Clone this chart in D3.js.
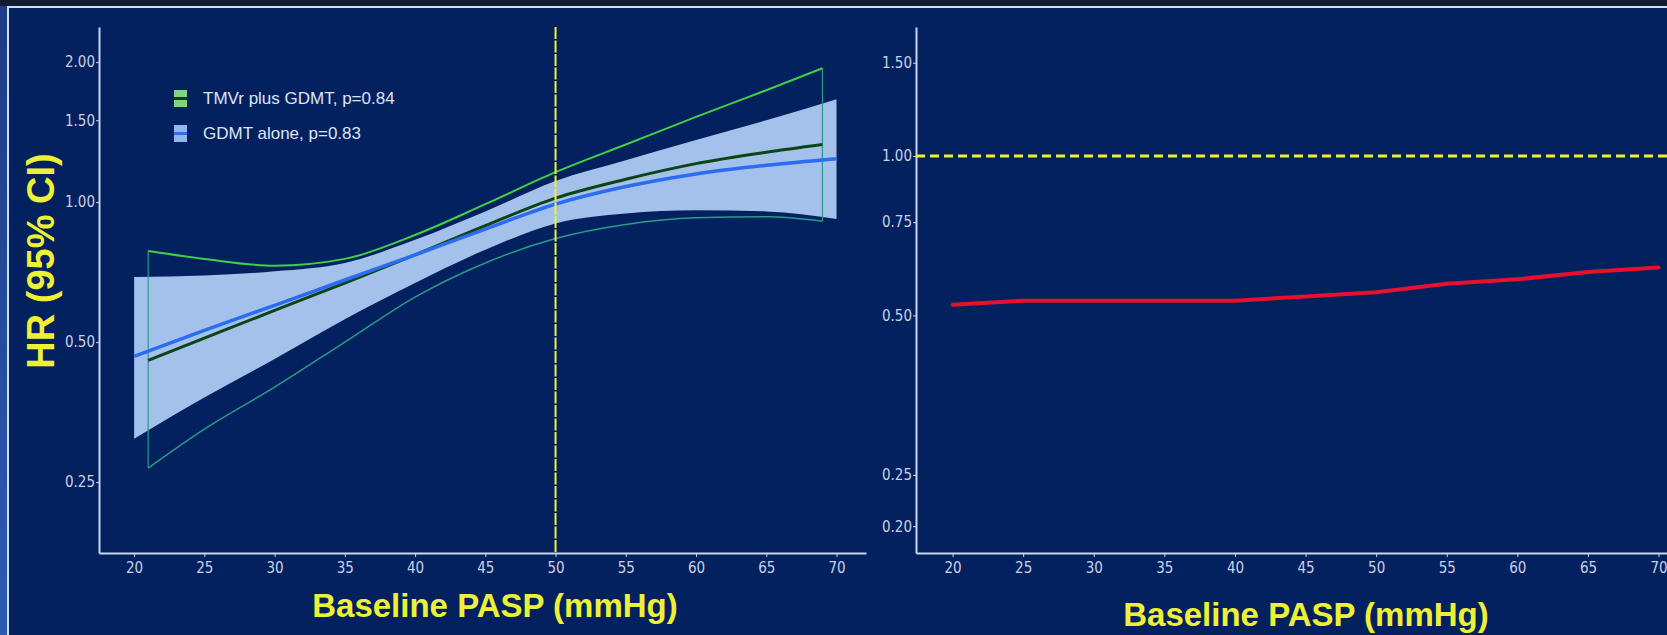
<!DOCTYPE html>
<html>
<head>
<meta charset="utf-8">
<script src="https://cdn.jsdelivr.net/npm/d3@7"></script>
<style>
  html, body { margin: 0; padding: 0; background: #03215e; overflow: hidden; }
  svg { display: block; }
  .tick text { font-family: "Liberation Sans Narrow", "DejaVu Sans Condensed", "Arial Narrow", sans-serif; }
</style>
</head>
<body>
<div id="chart"></div>
<script>
// x values (baseline PASP, mmHg)
const pasp = [20, 25, 30, 35, 40, 45, 50, 55, 60, 65, 70];
const tmvrPasp = [21, 25, 30, 35, 40, 45, 50, 55, 60, 65, 69];

// GDMT alone: HR with 95% CI band
const gdmtHR = [0.466, 0.53, 0.60, 0.68, 0.77, 0.875, 0.99, 1.08, 1.15, 1.20, 1.24];
const gdmtHi = [0.69, 0.695, 0.71, 0.74, 0.83, 0.955, 1.11, 1.23, 1.36, 1.50, 1.665];
const gdmtLo = [0.31, 0.38, 0.46, 0.56, 0.67, 0.79, 0.90, 0.945, 0.96, 0.955, 0.92];

// TMVr plus GDMT: HR with 95% CI outline
const tmvrHR = [0.457, 0.51, 0.585, 0.67, 0.77, 0.89, 1.02, 1.12, 1.21, 1.28, 1.33];
const tmvrHi = [0.785, 0.755, 0.73, 0.755, 0.85, 0.99, 1.16, 1.33, 1.525, 1.74, 1.94];
const tmvrLo = [0.268, 0.325, 0.40, 0.50, 0.625, 0.74, 0.835, 0.895, 0.925, 0.93, 0.91];

// right panel: red HR line
const redHR = [0.524, 0.533, 0.533, 0.533, 0.533, 0.543, 0.553, 0.574, 0.585, 0.604, 0.616];

// ticks and labels
const xTicks = [20, 25, 30, 35, 40, 45, 50, 55, 60, 65, 70];
const leftYTicks = [0.25, 0.5, 1, 1.5, 2];
const rightYTicks = [0.2, 0.25, 0.5, 0.75, 1, 1.5];
const legendLabels = ['TMVr plus GDMT, p=0.84', 'GDMT alone, p=0.83'];
const yTitle = 'HR (95% CI)';
const xTitle = 'Baseline PASP (mmHg)';

const W = 1667, H = 635;
const yellow = '#eef035';
const axisColor = '#c9d5ee';

const svg = d3.select('#chart').append('svg')
  .attr('width', W)
  .attr('height', H);

// background and slide frame
const bg = svg.append('defs').append('linearGradient')
  .attr('id', 'edge').attr('x1', 0).attr('x2', 0).attr('y1', 0).attr('y2', 1);
bg.append('stop').attr('offset', 0).attr('stop-color', '#1d3b85');
bg.append('stop').attr('offset', 1).attr('stop-color', '#2c5cb0');
svg.append('rect').attr('width', W).attr('height', H).attr('fill', '#03215e');
svg.append('rect').attr('width', 8).attr('height', H).attr('fill', 'url(#edge)');
svg.append('rect').attr('width', W).attr('height', 6).attr('fill', '#121a34');
svg.append('path')
  .attr('d', `M8,${H} V7 H${W}`)
  .attr('fill', 'none')
  .attr('stroke', '#d3ddf2')
  .attr('stroke-width', 2);

/* Draw one pair of axes and return its scales
*/
function makeAxes(xDomain, xRange, yDomain, yTicks) {
  const x = d3.scaleLinear().domain(xDomain).range(xRange);
  const y = d3.scaleLog().domain(yDomain).range([553, 27]);

  const gx = svg.append('g')
    .attr('transform', 'translate(0,553)')
    .call(d3.axisBottom(x).tickValues(xTicks).tickSize(4).tickSizeOuter(0).tickPadding(5));
  const gy = svg.append('g')
    .attr('transform', `translate(${xRange[0]},0)`)
    .call(d3.axisLeft(y).tickValues(yTicks).tickFormat(d3.format('.2f'))
      .tickSize(3).tickSizeOuter(0).tickPadding(1));

  [gx, gy].forEach(g => {
    g.select('.domain').attr('stroke', axisColor).attr('stroke-width', 2);
    g.selectAll('.tick line').attr('stroke', axisColor);
    g.selectAll('.tick text').attr('fill', '#c8d1e6').style('font-size', '15px');
  });
  return { x, y };
}

// ---------- left panel ----------
const L = makeAxes([17.5, 72.1], [99, 866], [0.176, 2.38], leftYTicks);

const band = d3.area()
  .x(d => L.x(d[0])).y0(d => L.y(d[1])).y1(d => L.y(d[2]))
  .curve(d3.curveMonotoneX);
svg.append('path')
  .datum(pasp.map((p, i) => [p, gdmtLo[i], gdmtHi[i]]))
  .attr('d', band)
  .attr('fill', '#a3c1ea');

const lineL = d3.line().x(d => L.x(d[0])).y(d => L.y(d[1])).curve(d3.curveMonotoneX);

// TMVr CI outline: ends, lower and upper bounds
const last = tmvrPasp.length - 1;
svg.append('path')
  .attr('d', `M${L.x(tmvrPasp[0])},${L.y(tmvrHi[0])} V${L.y(tmvrLo[0])}` +
             `M${L.x(tmvrPasp[last])},${L.y(tmvrHi[last])} V${L.y(tmvrLo[last])}`)
  .attr('stroke', '#2b9a8c').attr('stroke-width', 1.2).attr('fill', 'none');
svg.append('path')
  .datum(tmvrPasp.map((p, i) => [p, tmvrLo[i]]))
  .attr('d', lineL)
  .attr('stroke', '#2a9a8a').attr('stroke-width', 1.5).attr('fill', 'none');
svg.append('path')
  .datum(tmvrPasp.map((p, i) => [p, tmvrHi[i]]))
  .attr('d', lineL)
  .attr('stroke', '#3fd048').attr('stroke-width', 2).attr('fill', 'none');

svg.append('path')
  .datum(tmvrPasp.map((p, i) => [p, tmvrHR[i]]))
  .attr('d', lineL)
  .attr('stroke', '#0c4418').attr('stroke-width', 3).attr('fill', 'none');
svg.append('path')
  .datum(pasp.map((p, i) => [p, gdmtHR[i]]))
  .attr('d', lineL)
  .attr('stroke', '#2b6cf0').attr('stroke-width', 3.5).attr('fill', 'none');

// reference line at PASP 50
svg.append('line')
  .attr('x1', L.x(50)).attr('x2', L.x(50))
  .attr('y1', 27).attr('y2', 553)
  .attr('stroke', yellow).attr('stroke-width', 2)
  .attr('stroke-dasharray', '12,1.5');

// legend
const swatches = [
  { fill: '#80d680', stripe: '#0e3e16' },
  { fill: '#90b6ea', stripe: '#2f6ee6' },
];
legendLabels.forEach((t, i) => {
  const g = svg.append('g').attr('transform', `translate(174,${90 + i * 35})`);
  g.append('rect').attr('width', 13).attr('height', 17).attr('fill', swatches[i].fill);
  g.append('rect').attr('y', 7).attr('width', 13).attr('height', 3).attr('fill', swatches[i].stripe);
  g.append('text')
    .attr('x', 29).attr('y', 14)
    .text(t)
    .attr('fill', '#dde4f4')
    .style('font', '17px "Liberation Sans", Arial, sans-serif');
});

// ---------- right panel ----------
const R = makeAxes([17.41, 72], [916, 1686.8], [0.178, 1.752], rightYTicks);

svg.append('line')
  .attr('x1', 916).attr('x2', W)
  .attr('y1', R.y(1)).attr('y2', R.y(1))
  .attr('stroke', yellow).attr('stroke-width', 3)
  .attr('stroke-dasharray', '9,5');

svg.append('path')
  .datum(pasp.map((p, i) => [p, redHR[i]]))
  .attr('d', d3.line().x(d => R.x(d[0])).y(d => R.y(d[1])))
  .attr('stroke', '#e8102c').attr('stroke-width', 4).attr('fill', 'none')
  .attr('stroke-linecap', 'round');

// ---------- titles ----------
const titleFont = 'bold 33px "Liberation Sans", Arial, sans-serif';
svg.append('text')
  .attr('transform', 'translate(54,261) rotate(-90)')
  .attr('text-anchor', 'middle')
  .text(yTitle)
  .attr('fill', yellow)
  .style('font', 'bold 38px "Liberation Sans", Arial, sans-serif');
svg.append('text')
  .attr('x', 495).attr('y', 617)
  .attr('text-anchor', 'middle')
  .text(xTitle)
  .attr('fill', yellow)
  .style('font', titleFont);
svg.append('text')
  .attr('x', 1306).attr('y', 626)
  .attr('text-anchor', 'middle')
  .text(xTitle)
  .attr('fill', yellow)
  .style('font', titleFont);
</script>
</body>
</html>
